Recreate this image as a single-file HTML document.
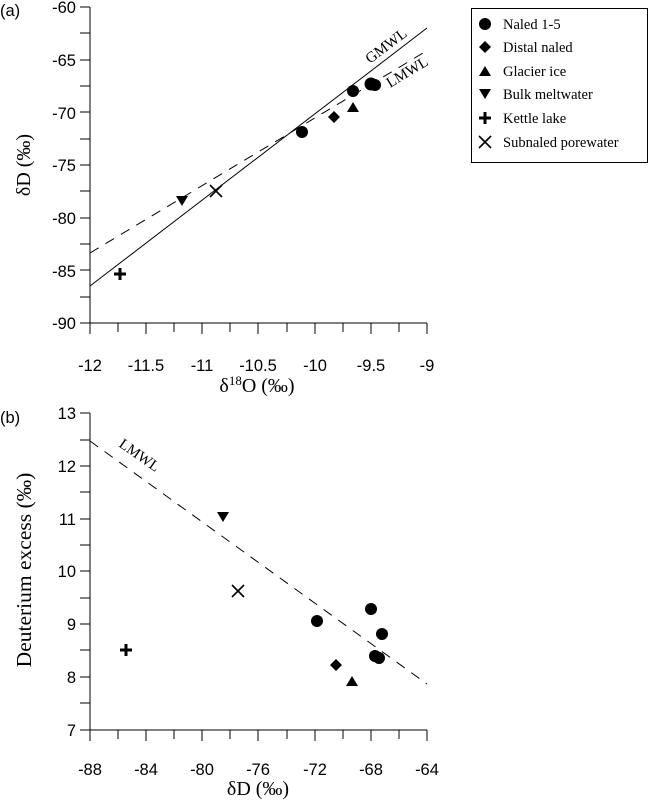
<!DOCTYPE html>
<html><head><meta charset="utf-8"><style>
body{margin:0;background:#fff}
svg{display:block}
.s{font-family:"Liberation Sans",sans-serif;font-size:16.5px}
.r{font-family:"Liberation Serif",serif}
</style></head><body>
<svg width="649" height="807" viewBox="0 0 649 807" xmlns="http://www.w3.org/2000/svg">
<g stroke="#000" stroke-width="1" fill="none">
<line x1="90" y1="7" x2="90" y2="323"/>
<line x1="90" y1="323" x2="427" y2="323"/>
<path d="M80 7H90M80 33H90M80 60H90M80 86H90M80 112H90M80 139H90M80 165H90M80 191H90M80 218H90M80 244H90M80 270H90M80 297H90M80 323H90"/>
<path d="M90 323V334M118 323V332M146 323V334M174 323V332M202 323V334M230 323V332M258 323V334M287 323V332M315 323V334M343 323V332M371 323V334M399 323V332M427 323V334"/>
<line x1="90" y1="286" x2="427" y2="28"/>
<line x1="90" y1="253" x2="428" y2="50" stroke-dasharray="10,8"/>
<line x1="90" y1="413" x2="90" y2="730"/>
<line x1="90" y1="730" x2="427" y2="730"/>
<path d="M80 413H90M80 440H90M80 466H90M80 492H90M80 519H90M80 545H90M80 571H90M80 598H90M80 624H90M80 650H90M80 677H90M80 703H90M80 730H90"/>
<path d="M90 730V741M118 730V739M146 730V741M174 730V739M202 730V741M230 730V739M258 730V741M287 730V739M315 730V741M343 730V739M371 730V741M399 730V739M427 730V741"/>
<line x1="90" y1="441" x2="427" y2="684" stroke-dasharray="10,8"/>
<rect x="471.5" y="8.5" width="176" height="154"/>
</g>
<g class="s" text-anchor="end">
<text x="76" y="13">-60</text><text x="76" y="66">-65</text><text x="76" y="119">-70</text>
<text x="76" y="171">-75</text><text x="76" y="224">-80</text><text x="76" y="277">-85</text><text x="76" y="329">-90</text>
<text x="76" y="419">13</text><text x="76" y="472">12</text><text x="76" y="525">11</text>
<text x="76" y="577">10</text><text x="76" y="630">9</text><text x="76" y="683">8</text><text x="76" y="736">7</text>
</g>
<g class="s" text-anchor="middle">
<text x="90" y="371">-12</text><text x="146" y="371">-11.5</text><text x="202" y="371">-11</text>
<text x="258" y="371">-10.5</text><text x="315" y="371">-10</text><text x="371" y="371">-9.5</text><text x="427" y="371">-9</text>
<text x="90" y="775">-88</text><text x="146" y="775">-84</text><text x="202" y="775">-80</text>
<text x="258" y="775">-76</text><text x="315" y="775">-72</text><text x="371" y="775">-68</text><text x="427" y="775">-64</text>
</g>
<text class="s" x="0" y="16" font-size="17">(a)</text>
<text class="s" x="0" y="423" font-size="17">(b)</text>
<text class="r" font-size="20" text-anchor="middle" transform="translate(30,165) rotate(-90)">δD (‰)</text>
<text class="r" font-size="20" text-anchor="middle" x="257" y="392">δ<tspan font-size="13" dy="-7">18</tspan><tspan dy="7">O (‰)</tspan></text>
<text class="r" font-size="21.5" text-anchor="middle" transform="translate(31,570) rotate(-90)">Deuterium excess (‰)</text>
<text class="r" font-size="20" text-anchor="middle" x="258" y="795">δD (‰)</text>
<text class="r" font-size="15" transform="translate(370,64) rotate(-37)">GMWL</text>
<text class="r" font-size="15" transform="translate(390,88) rotate(-31)">LMWL</text>
<text class="r" font-size="15" transform="translate(118,446) rotate(35)">LMWL</text>
<defs>
<path id="dn" d="M-6,-5H6L0,5Z"/>
<path id="up" d="M-6,5H6L0,-5Z"/>
<path id="dm" d="M0,-6L6,0L0,6L-6,0Z"/>
<path id="pl" d="M-6,0H6M0,-6V6" stroke="#000" stroke-width="3"/>
<path id="xx" d="M-6,-6L6,6M6,-6L-6,6" stroke="#000" stroke-width="1.6"/>
</defs>
<g fill="#000">
<circle cx="302" cy="132" r="6"/><circle cx="353" cy="91" r="6"/><circle cx="371" cy="84" r="6.5"/><circle cx="375" cy="85" r="6"/>
<use href="#dm" x="334" y="117"/><use href="#up" x="353" y="107"/><use href="#dn" x="182" y="201"/>
<use href="#xx" x="216" y="191"/><use href="#pl" x="120" y="274"/>
<circle cx="317" cy="621" r="6"/><circle cx="371" cy="609" r="6"/><circle cx="382" cy="634" r="6"/><circle cx="375" cy="656" r="6"/><circle cx="379" cy="658" r="6"/>
<use href="#dm" x="336" y="665"/><use href="#up" x="352" y="681"/><use href="#dn" x="223" y="517"/>
<use href="#xx" x="238" y="591"/><use href="#pl" x="126" y="650"/>
<circle cx="485" cy="24" r="6"/><use href="#dm" x="485" y="47"/><use href="#up" x="485" y="71"/>
<use href="#dn" x="485" y="94"/><use href="#pl" x="485" y="118"/><use href="#xx" x="485" y="142"/>
</g>
<g class="r" font-size="14.5">
<text x="503" y="29">Naled 1-5</text><text x="503" y="52">Distal naled</text><text x="503" y="76">Glacier ice</text>
<text x="503" y="99">Bulk meltwater</text><text x="503" y="123">Kettle lake</text><text x="503" y="147">Subnaled porewater</text>
</g>
</svg>
</body></html>
